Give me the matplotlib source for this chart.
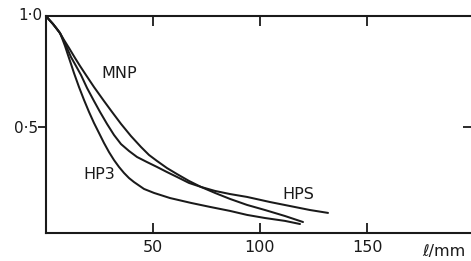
import matplotlib
matplotlib.use("Agg")
import matplotlib.pyplot as plt
import matplotlib.transforms as mtransforms

# Data
hp3_x = [0, 1.40, 3.27, 5.14, 6.54, 7.48, 8.88, 10.28, 11.68, 13.08, 15.42, 17.76, 20.09, 22.43,
         24.77, 27.10, 29.44, 31.78, 34.11, 36.45, 38.79, 41.12, 45.79, 50.47, 57.94, 67.76,
         76.64, 85.98, 93.93, 102.34, 111.68, 118.69]
hp3_y = [1.0, 0.984, 0.964, 0.941, 0.923, 0.901, 0.865, 0.824, 0.784, 0.743, 0.680, 0.622, 0.568, 0.518,
         0.473, 0.428, 0.387, 0.351, 0.320, 0.293, 0.270, 0.252, 0.221, 0.203, 0.180, 0.158,
         0.140, 0.122, 0.104, 0.090, 0.077, 0.063]

hps_x = [0, 1.40, 3.27, 5.14, 6.54, 7.94, 9.81, 11.68, 14.02, 16.36, 19.16, 22.43, 25.23, 28.50,
         31.78, 35.05, 38.79, 42.52, 47.20, 51.87, 56.54, 61.21, 66.82, 72.43, 78.97, 85.98,
         93.93, 104.67, 114.02, 123.36, 131.78]
hps_y = [1.0, 0.984, 0.964, 0.941, 0.923, 0.896, 0.856, 0.815, 0.775, 0.734, 0.676, 0.617, 0.568, 0.514,
         0.464, 0.423, 0.392, 0.365, 0.342, 0.320, 0.297, 0.275, 0.248, 0.230, 0.212, 0.198,
         0.185, 0.162, 0.144, 0.126, 0.113]

mnp_x = [0, 1.40, 3.27, 5.14, 6.54, 8.41, 10.75, 13.55, 15.89, 18.69, 22.43, 27.10, 30.84, 35.05,
         39.72, 44.39, 48.13, 51.87, 56.54, 61.21, 66.82, 72.43, 78.97, 85.98, 93.93, 102.34,
         111.68, 120.09]
mnp_y = [1.0, 0.984, 0.964, 0.941, 0.923, 0.892, 0.856, 0.811, 0.775, 0.734, 0.680, 0.617, 0.568, 0.514,
         0.459, 0.410, 0.374, 0.347, 0.315, 0.288, 0.257, 0.230, 0.203, 0.176, 0.149, 0.126,
         0.099, 0.072]

x_ticks = [50, 100, 150]
x_tick_labels = ["50", "100", "150"]
y_ticks = [0.5]
y_tick_labels = ["0·5"]
y_top_label = "1·0"

plt.rcParams['font.family'] = ['DejaVu Sans']

fig = plt.figure(figsize=(4.71, 2.61), dpi=100)
ax = fig.add_axes([46/471, (261-233)/261, (474-46)/471, (233-16)/261])

ink = '#1a1a1a'
for xs, ys in [(hp3_x, hp3_y), (hps_x, hps_y), (mnp_x, mnp_y)]:
    ax.plot(xs, ys, color=ink, lw=1.45, solid_joinstyle='round', solid_capstyle='round')

ax.set_xlim(0, 200)
ax.set_ylim(0.0225, 1.0)

for s in ax.spines.values():
    s.set_linewidth(1.5)
    s.set_color(ink)

ax.set_xticks(x_ticks)
ax.set_xticklabels(x_tick_labels)
ax.set_yticks(y_ticks)
ax.set_yticklabels(y_tick_labels)
ax.tick_params(axis='x', direction='in', top=True, bottom=True, length=7, width=1.3,
               labelsize=11.5, pad=5, colors=ink)
ax.tick_params(axis='y', direction='out', left=True, right=False, length=5.5, width=1.3,
               labelsize=11, pad=0.5, colors=ink)
ax2 = ax.secondary_yaxis('right')
ax2.set_yticks([0.5])
ax2.set_yticklabels([])
ax2.tick_params(direction='in', length=8, width=1.3, colors=ink)
ax2.spines['right'].set_linewidth(1.5)

# top-left value label (no tick drawn at the corner)
trans = mtransforms.blended_transform_factory(ax.transAxes, ax.transData) + \
    mtransforms.ScaledTranslation(-4/100, 0, fig.dpi_scale_trans)
ax.text(0, 1.0, y_top_label, transform=trans, fontsize=11, ha='right', va='center', color=ink)

ax.text(34.1, 0.743, "MNP", fontsize=11.5, ha='center', va='center', color=ink)
ax.text(24.8, 0.284, "HP3", fontsize=11.5, ha='center', va='center', color=ink)
ax.text(118.0, 0.196, "HPS", fontsize=11.5, ha='center', va='center', color=ink)
ax.text(186, -0.028, "ℓ/mm", fontsize=11.5, ha='center', va='top', color=ink)

fig.savefig("out.png", dpi=100)
